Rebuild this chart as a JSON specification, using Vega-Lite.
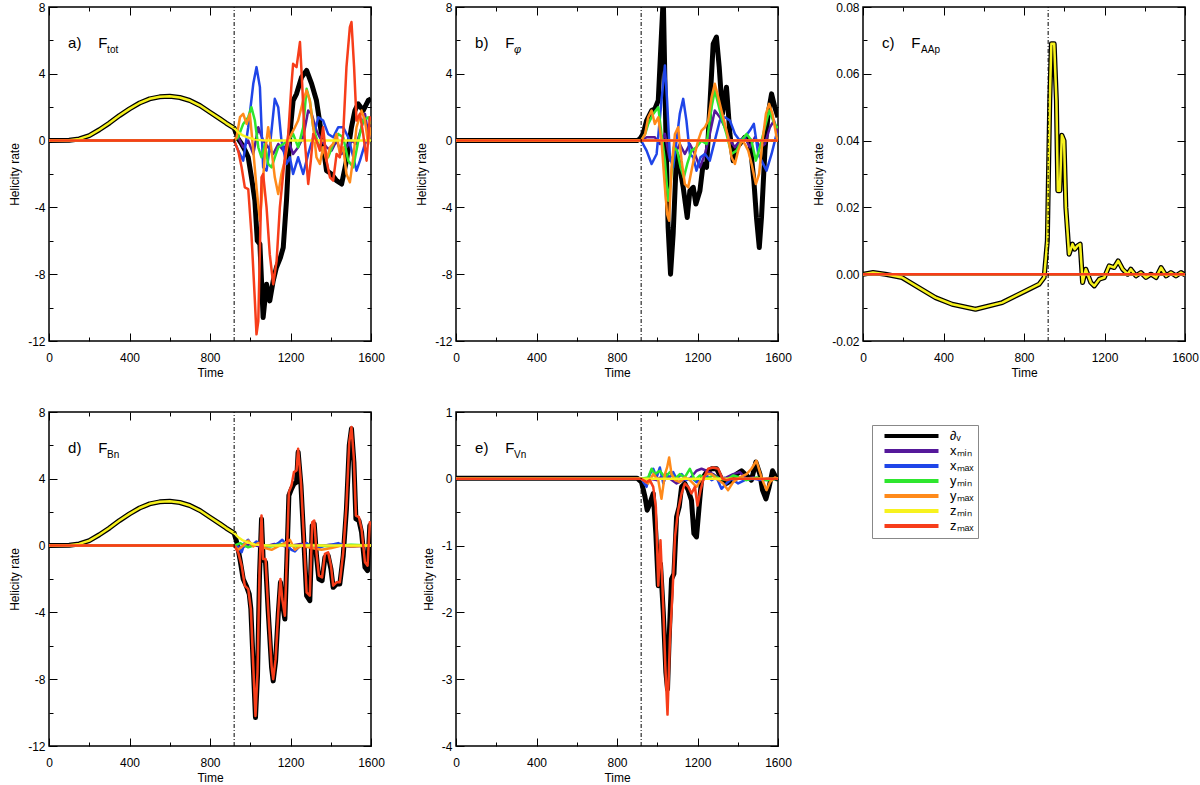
{
  "$schema": "https://vega.github.io/schema/vega-lite/v6.json",
  "description": "Helicity rate panels a-e with shared legend",
  "background": "white",
  "padding": {"left": 7, "top": 0, "right": 5, "bottom": 5},
  "config": {
    "font": "Liberation Sans",
    "view": {"stroke": "black", "strokeWidth": 1.5},
    "axis": {
      "domain": false, "grid": false,
      "labelFont": "Liberation Sans", "labelFontSize": 12, "labelColor": "black",
      "titleFont": "Liberation Sans", "titleFontSize": 12, "titleFontWeight": "normal", "titleColor": "black",
      "tickColor": "black", "tickWidth": 1, "labelOverlap": false, "labelFlush": false
    },
    "legend": {
      "orient": "none", "legendX": 823, "legendY": 418,
      "strokeColor": "#888888", "fillColor": "white", "padding": 4,
      "symbolType": "M0.3,0H11.1", "symbolSize": 100, "symbolStrokeWidth": 4,
      "labelFont": "Liberation Sans", "labelFontSize": 13, "labelColor": "black",
      "rowPadding": -3, "labelOffset": 60
    }
  },
  "datasets": {
    "a": [
      {"s":"dV","t":0,"v":0},{"s":"dV","t":100,"v":0.02},{"s":"dV","t":150,"v":0.1},{"s":"dV","t":200,"v":0.3},{"s":"dV","t":250,"v":0.65},{"s":"dV","t":300,"v":1.05},{"s":"dV","t":350,"v":1.5},{"s":"dV","t":400,"v":1.9},{"s":"dV","t":450,"v":2.25},{"s":"dV","t":500,"v":2.5},{"s":"dV","t":550,"v":2.62},{"s":"dV","t":600,"v":2.65},{"s":"dV","t":650,"v":2.58},{"s":"dV","t":700,"v":2.4},{"s":"dV","t":750,"v":2.1},{"s":"dV","t":800,"v":1.7},{"s":"dV","t":850,"v":1.3},{"s":"dV","t":880,"v":1.05},{"s":"dV","t":900,"v":0.9},{"s":"dV","t":920,"v":0.75},
      {"s":"dV","t":940,"v":0.1},{"s":"dV","t":957,"v":-0.2},{"s":"dV","t":975,"v":-0.6},{"s":"dV","t":990,"v":-1.0},{"s":"dV","t":1010,"v":-2.5},{"s":"dV","t":1023,"v":-3.6},{"s":"dV","t":1035,"v":-6},{"s":"dV","t":1048,"v":-6.2},{"s":"dV","t":1064,"v":-10.6},{"s":"dV","t":1081,"v":-8.6},{"s":"dV","t":1097,"v":-9.6},{"s":"dV","t":1114,"v":-8.4},{"s":"dV","t":1130,"v":-7.6},{"s":"dV","t":1150,"v":-7},{"s":"dV","t":1164,"v":-6.4},{"s":"dV","t":1180,"v":-3.6},{"s":"dV","t":1197,"v":0.4},{"s":"dV","t":1213,"v":2.4},{"s":"dV","t":1230,"v":2.8},{"s":"dV","t":1255,"v":3.8},{"s":"dV","t":1280,"v":4.2},{"s":"dV","t":1305,"v":3.4},{"s":"dV","t":1329,"v":2.4},{"s":"dV","t":1354,"v":0.4},{"s":"dV","t":1379,"v":-1.8},{"s":"dV","t":1404,"v":-2},{"s":"dV","t":1429,"v":-2.4},{"s":"dV","t":1454,"v":-2.6},{"s":"dV","t":1478,"v":-1.2},{"s":"dV","t":1503,"v":0.8},{"s":"dV","t":1520,"v":1.8},{"s":"dV","t":1536,"v":2.2},{"s":"dV","t":1561,"v":1.8},{"s":"dV","t":1586,"v":2.4},{"s":"dV","t":1600,"v":2.5},
      {"s":"xmin","t":0,"v":0},{"s":"xmin","t":920,"v":0},{"s":"xmin","t":940,"v":0.2},{"s":"xmin","t":965,"v":-0.4},{"s":"xmin","t":990,"v":0},{"s":"xmin","t":1015,"v":-0.8},{"s":"xmin","t":1040,"v":0.8},{"s":"xmin","t":1064,"v":0},{"s":"xmin","t":1089,"v":-0.4},{"s":"xmin","t":1114,"v":-0.8},{"s":"xmin","t":1139,"v":-0.2},{"s":"xmin","t":1164,"v":-0.6},{"s":"xmin","t":1189,"v":0},{"s":"xmin","t":1213,"v":-0.8},{"s":"xmin","t":1238,"v":-0.4},{"s":"xmin","t":1263,"v":0.2},{"s":"xmin","t":1288,"v":1.8},{"s":"xmin","t":1305,"v":1.6},{"s":"xmin","t":1329,"v":0.6},{"s":"xmin","t":1354,"v":0},{"s":"xmin","t":1379,"v":-0.4},{"s":"xmin","t":1404,"v":-0.6},{"s":"xmin","t":1429,"v":0},{"s":"xmin","t":1454,"v":-0.8},{"s":"xmin","t":1478,"v":-0.4},{"s":"xmin","t":1503,"v":0},{"s":"xmin","t":1528,"v":-0.2},{"s":"xmin","t":1553,"v":0.8},{"s":"xmin","t":1570,"v":1.6},{"s":"xmin","t":1586,"v":0.4},{"s":"xmin","t":1600,"v":0.2},
      {"s":"xmax","t":0,"v":0},{"s":"xmax","t":920,"v":0},{"s":"xmax","t":940,"v":-0.6},{"s":"xmax","t":965,"v":-1.2},{"s":"xmax","t":990,"v":0.8},{"s":"xmax","t":1015,"v":3.4},{"s":"xmax","t":1031,"v":4.4},{"s":"xmax","t":1048,"v":3.2},{"s":"xmax","t":1064,"v":-1.6},{"s":"xmax","t":1081,"v":-1.8},{"s":"xmax","t":1097,"v":-0.4},{"s":"xmax","t":1122,"v":2.5},{"s":"xmax","t":1139,"v":2},{"s":"xmax","t":1155,"v":0},{"s":"xmax","t":1180,"v":-1.4},{"s":"xmax","t":1197,"v":-1},{"s":"xmax","t":1213,"v":-2},{"s":"xmax","t":1238,"v":-1},{"s":"xmax","t":1263,"v":-2},{"s":"xmax","t":1288,"v":-0.8},{"s":"xmax","t":1313,"v":0.2},{"s":"xmax","t":1338,"v":1.4},{"s":"xmax","t":1362,"v":1.2},{"s":"xmax","t":1387,"v":0.4},{"s":"xmax","t":1412,"v":0.2},{"s":"xmax","t":1437,"v":0.8},{"s":"xmax","t":1462,"v":0.8},{"s":"xmax","t":1487,"v":0.2},{"s":"xmax","t":1512,"v":-1},{"s":"xmax","t":1528,"v":-1.8},{"s":"xmax","t":1545,"v":-1.2},{"s":"xmax","t":1570,"v":-0.2},{"s":"xmax","t":1600,"v":0.4},
      {"s":"ymin","t":0,"v":0},{"s":"ymin","t":920,"v":0},{"s":"ymin","t":940,"v":0.2},{"s":"ymin","t":965,"v":1},{"s":"ymin","t":990,"v":1.4},{"s":"ymin","t":1006,"v":2},{"s":"ymin","t":1023,"v":1.2},{"s":"ymin","t":1040,"v":-0.4},{"s":"ymin","t":1056,"v":-1},{"s":"ymin","t":1073,"v":-0.2},{"s":"ymin","t":1089,"v":-1.4},{"s":"ymin","t":1106,"v":-1.6},{"s":"ymin","t":1122,"v":-1},{"s":"ymin","t":1139,"v":-0.4},{"s":"ymin","t":1164,"v":-0.2},{"s":"ymin","t":1189,"v":0},{"s":"ymin","t":1213,"v":0.4},{"s":"ymin","t":1238,"v":-0.4},{"s":"ymin","t":1263,"v":0.8},{"s":"ymin","t":1280,"v":3.1},{"s":"ymin","t":1296,"v":2.4},{"s":"ymin","t":1313,"v":0.8},{"s":"ymin","t":1338,"v":-0.2},{"s":"ymin","t":1362,"v":-0.6},{"s":"ymin","t":1387,"v":-1},{"s":"ymin","t":1412,"v":-0.2},{"s":"ymin","t":1437,"v":0.4},{"s":"ymin","t":1462,"v":0.2},{"s":"ymin","t":1487,"v":-1.2},{"s":"ymin","t":1512,"v":-1.6},{"s":"ymin","t":1537,"v":0},{"s":"ymin","t":1561,"v":1.2},{"s":"ymin","t":1586,"v":1.4},{"s":"ymin","t":1600,"v":1},
      {"s":"ymax","t":0,"v":0},{"s":"ymax","t":920,"v":0},{"s":"ymax","t":932,"v":0.2},{"s":"ymax","t":949,"v":1.4},{"s":"ymax","t":965,"v":1.6},{"s":"ymax","t":982,"v":1},{"s":"ymax","t":998,"v":1.6},{"s":"ymax","t":1015,"v":-0.6},{"s":"ymax","t":1031,"v":-2.8},{"s":"ymax","t":1048,"v":-4.8},{"s":"ymax","t":1056,"v":-3.6},{"s":"ymax","t":1073,"v":-0.8},{"s":"ymax","t":1089,"v":0.8},{"s":"ymax","t":1106,"v":-0.6},{"s":"ymax","t":1122,"v":-2.2},{"s":"ymax","t":1139,"v":-3.2},{"s":"ymax","t":1155,"v":-2},{"s":"ymax","t":1172,"v":-1.2},{"s":"ymax","t":1189,"v":0},{"s":"ymax","t":1205,"v":0.4},{"s":"ymax","t":1222,"v":0.8},{"s":"ymax","t":1238,"v":1.2},{"s":"ymax","t":1263,"v":2.4},{"s":"ymax","t":1280,"v":3},{"s":"ymax","t":1296,"v":2.4},{"s":"ymax","t":1313,"v":0.8},{"s":"ymax","t":1329,"v":-1},{"s":"ymax","t":1346,"v":-1.4},{"s":"ymax","t":1362,"v":-0.4},{"s":"ymax","t":1379,"v":-1.2},{"s":"ymax","t":1396,"v":-0.4},{"s":"ymax","t":1412,"v":-0.2},{"s":"ymax","t":1429,"v":0.4},{"s":"ymax","t":1445,"v":-0.8},{"s":"ymax","t":1462,"v":-0.4},{"s":"ymax","t":1478,"v":-2},{"s":"ymax","t":1495,"v":-2.5},{"s":"ymax","t":1512,"v":-1},{"s":"ymax","t":1528,"v":0.8},{"s":"ymax","t":1553,"v":1.8},{"s":"ymax","t":1570,"v":1.2},{"s":"ymax","t":1586,"v":-0.2},{"s":"ymax","t":1600,"v":0.8},
      {"s":"zmin","t":0,"v":0},{"s":"zmin","t":100,"v":0.02},{"s":"zmin","t":150,"v":0.1},{"s":"zmin","t":200,"v":0.3},{"s":"zmin","t":250,"v":0.65},{"s":"zmin","t":300,"v":1.05},{"s":"zmin","t":350,"v":1.5},{"s":"zmin","t":400,"v":1.9},{"s":"zmin","t":450,"v":2.25},{"s":"zmin","t":500,"v":2.5},{"s":"zmin","t":550,"v":2.62},{"s":"zmin","t":600,"v":2.65},{"s":"zmin","t":650,"v":2.58},{"s":"zmin","t":700,"v":2.4},{"s":"zmin","t":750,"v":2.1},{"s":"zmin","t":800,"v":1.7},{"s":"zmin","t":850,"v":1.3},{"s":"zmin","t":880,"v":1.05},{"s":"zmin","t":900,"v":0.9},{"s":"zmin","t":920,"v":0.75},{"s":"zmin","t":940,"v":0.5},{"s":"zmin","t":960,"v":0.33},{"s":"zmin","t":990,"v":0.18},{"s":"zmin","t":1020,"v":0.08},{"s":"zmin","t":1060,"v":0.02},{"s":"zmin","t":1100,"v":0},{"s":"zmin","t":1600,"v":0},
      {"s":"zmax","t":0,"v":0},{"s":"zmax","t":920,"v":0},{"s":"zmax","t":940,"v":-0.6},{"s":"zmax","t":957,"v":-1.6},{"s":"zmax","t":973,"v":-2.8},{"s":"zmax","t":990,"v":-2.9},{"s":"zmax","t":1006,"v":-5.6},{"s":"zmax","t":1023,"v":-9.6},{"s":"zmax","t":1031,"v":-11.6},{"s":"zmax","t":1040,"v":-10.8},{"s":"zmax","t":1056,"v":-2.2},{"s":"zmax","t":1064,"v":-2},{"s":"zmax","t":1081,"v":-4},{"s":"zmax","t":1097,"v":-6.8},{"s":"zmax","t":1114,"v":-8.6},{"s":"zmax","t":1131,"v":-7.2},{"s":"zmax","t":1147,"v":-4},{"s":"zmax","t":1172,"v":-1},{"s":"zmax","t":1189,"v":0.4},{"s":"zmax","t":1205,"v":3.4},{"s":"zmax","t":1213,"v":4.6},{"s":"zmax","t":1230,"v":4.4},{"s":"zmax","t":1247,"v":5.9},{"s":"zmax","t":1258,"v":3.4},{"s":"zmax","t":1271,"v":0},{"s":"zmax","t":1288,"v":-2.6},{"s":"zmax","t":1301,"v":-1.2},{"s":"zmax","t":1313,"v":0.4},{"s":"zmax","t":1329,"v":0},{"s":"zmax","t":1346,"v":-0.6},{"s":"zmax","t":1362,"v":0.8},{"s":"zmax","t":1379,"v":-1.2},{"s":"zmax","t":1396,"v":-2.2},{"s":"zmax","t":1412,"v":-2.4},{"s":"zmax","t":1429,"v":-0.8},{"s":"zmax","t":1445,"v":-1},{"s":"zmax","t":1462,"v":0.4},{"s":"zmax","t":1478,"v":4.4},{"s":"zmax","t":1495,"v":6.8},{"s":"zmax","t":1503,"v":7.1},{"s":"zmax","t":1516,"v":4.4},{"s":"zmax","t":1528,"v":1.2},{"s":"zmax","t":1545,"v":1.6},{"s":"zmax","t":1561,"v":0.4},{"s":"zmax","t":1578,"v":-1.2},{"s":"zmax","t":1594,"v":1.4},{"s":"zmax","t":1600,"v":1.2}
    ],
    "b": [
      {"s":"dV","t":0,"v":0},{"s":"dV","t":900,"v":0},{"s":"dV","t":914,"v":0.1},{"s":"dV","t":930,"v":0.4},{"s":"dV","t":947,"v":1.2},{"s":"dV","t":972,"v":1.8},{"s":"dV","t":988,"v":1.9},{"s":"dV","t":1005,"v":2.4},{"s":"dV","t":1021,"v":6.4},{"s":"dV","t":1030,"v":8.6},{"s":"dV","t":1043,"v":0.4},{"s":"dV","t":1054,"v":-5.2},{"s":"dV","t":1066,"v":-8},{"s":"dV","t":1079,"v":-5.6},{"s":"dV","t":1096,"v":-0.8},{"s":"dV","t":1112,"v":-1.6},{"s":"dV","t":1129,"v":-2.8},{"s":"dV","t":1149,"v":-4.6},{"s":"dV","t":1162,"v":-3},{"s":"dV","t":1179,"v":-2.8},{"s":"dV","t":1192,"v":-3.8},{"s":"dV","t":1212,"v":-3},{"s":"dV","t":1228,"v":-1.4},{"s":"dV","t":1245,"v":-1.6},{"s":"dV","t":1261,"v":2},{"s":"dV","t":1278,"v":5.8},{"s":"dV","t":1294,"v":6.2},{"s":"dV","t":1308,"v":4.4},{"s":"dV","t":1324,"v":1.6},{"s":"dV","t":1344,"v":3.2},{"s":"dV","t":1361,"v":0.4},{"s":"dV","t":1377,"v":-1.2},{"s":"dV","t":1394,"v":-0.4},{"s":"dV","t":1410,"v":-0.2},{"s":"dV","t":1435,"v":0.2},{"s":"dV","t":1460,"v":0},{"s":"dV","t":1480,"v":-2.4},{"s":"dV","t":1493,"v":-4.6},{"s":"dV","t":1507,"v":-6.4},{"s":"dV","t":1518,"v":-4.6},{"s":"dV","t":1535,"v":-0.6},{"s":"dV","t":1551,"v":1.6},{"s":"dV","t":1568,"v":2.8},{"s":"dV","t":1584,"v":2},{"s":"dV","t":1600,"v":1.4},
      {"s":"xmin","t":0,"v":0},{"s":"xmin","t":920,"v":0},{"s":"xmin","t":947,"v":0.2},{"s":"xmin","t":988,"v":0.2},{"s":"xmin","t":1013,"v":-0.2},{"s":"xmin","t":1038,"v":0.4},{"s":"xmin","t":1063,"v":-1.2},{"s":"xmin","t":1088,"v":-0.8},{"s":"xmin","t":1112,"v":-0.2},{"s":"xmin","t":1137,"v":-0.8},{"s":"xmin","t":1162,"v":-0.2},{"s":"xmin","t":1187,"v":-0.8},{"s":"xmin","t":1212,"v":-1.6},{"s":"xmin","t":1237,"v":-0.8},{"s":"xmin","t":1261,"v":0.4},{"s":"xmin","t":1286,"v":1.8},{"s":"xmin","t":1311,"v":1.4},{"s":"xmin","t":1336,"v":0.8},{"s":"xmin","t":1361,"v":0},{"s":"xmin","t":1386,"v":-0.4},{"s":"xmin","t":1410,"v":0},{"s":"xmin","t":1435,"v":0.2},{"s":"xmin","t":1460,"v":-0.4},{"s":"xmin","t":1485,"v":0.2},{"s":"xmin","t":1510,"v":-0.4},{"s":"xmin","t":1535,"v":-0.2},{"s":"xmin","t":1560,"v":0.8},{"s":"xmin","t":1580,"v":1.2},{"s":"xmin","t":1600,"v":0.4},
      {"s":"xmax","t":0,"v":0},{"s":"xmax","t":920,"v":0},{"s":"xmax","t":947,"v":-0.6},{"s":"xmax","t":972,"v":-1.4},{"s":"xmax","t":997,"v":-0.8},{"s":"xmax","t":1021,"v":2.4},{"s":"xmax","t":1038,"v":4.5},{"s":"xmax","t":1049,"v":2.4},{"s":"xmax","t":1063,"v":-1},{"s":"xmax","t":1079,"v":-1.6},{"s":"xmax","t":1096,"v":0},{"s":"xmax","t":1112,"v":1.6},{"s":"xmax","t":1129,"v":2.5},{"s":"xmax","t":1145,"v":1.2},{"s":"xmax","t":1162,"v":-0.8},{"s":"xmax","t":1179,"v":-1},{"s":"xmax","t":1195,"v":-1.8},{"s":"xmax","t":1215,"v":-1},{"s":"xmax","t":1237,"v":-0.8},{"s":"xmax","t":1261,"v":-1.2},{"s":"xmax","t":1286,"v":0},{"s":"xmax","t":1311,"v":1.2},{"s":"xmax","t":1336,"v":1.4},{"s":"xmax","t":1361,"v":1.2},{"s":"xmax","t":1386,"v":0.4},{"s":"xmax","t":1410,"v":0},{"s":"xmax","t":1435,"v":0.2},{"s":"xmax","t":1460,"v":0.6},{"s":"xmax","t":1480,"v":1},{"s":"xmax","t":1502,"v":-0.8},{"s":"xmax","t":1518,"v":-1.2},{"s":"xmax","t":1543,"v":-1.8},{"s":"xmax","t":1568,"v":-0.8},{"s":"xmax","t":1593,"v":0.4},{"s":"xmax","t":1600,"v":0.4},
      {"s":"ymin","t":0,"v":0},{"s":"ymin","t":920,"v":0},{"s":"ymin","t":940,"v":0.4},{"s":"ymin","t":955,"v":1},{"s":"ymin","t":980,"v":1.6},{"s":"ymin","t":1005,"v":2},{"s":"ymin","t":1021,"v":0.4},{"s":"ymin","t":1038,"v":-1.2},{"s":"ymin","t":1054,"v":-3.6},{"s":"ymin","t":1066,"v":-2.6},{"s":"ymin","t":1082,"v":-0.4},{"s":"ymin","t":1099,"v":-0.6},{"s":"ymin","t":1116,"v":-1.6},{"s":"ymin","t":1132,"v":-2.2},{"s":"ymin","t":1149,"v":-1.4},{"s":"ymin","t":1170,"v":-0.6},{"s":"ymin","t":1195,"v":-0.4},{"s":"ymin","t":1220,"v":0},{"s":"ymin","t":1245,"v":-0.2},{"s":"ymin","t":1270,"v":2},{"s":"ymin","t":1286,"v":3},{"s":"ymin","t":1303,"v":2.2},{"s":"ymin","t":1319,"v":1.4},{"s":"ymin","t":1344,"v":0.4},{"s":"ymin","t":1369,"v":-0.8},{"s":"ymin","t":1394,"v":-0.6},{"s":"ymin","t":1419,"v":0},{"s":"ymin","t":1444,"v":0.4},{"s":"ymin","t":1468,"v":0},{"s":"ymin","t":1490,"v":-1.2},{"s":"ymin","t":1510,"v":-0.4},{"s":"ymin","t":1535,"v":0.8},{"s":"ymin","t":1556,"v":1.8},{"s":"ymin","t":1576,"v":1.2},{"s":"ymin","t":1593,"v":0.8},{"s":"ymin","t":1600,"v":0.8},
      {"s":"ymax","t":0,"v":0},{"s":"ymax","t":920,"v":0},{"s":"ymax","t":940,"v":0.4},{"s":"ymax","t":955,"v":1.4},{"s":"ymax","t":972,"v":1.8},{"s":"ymax","t":988,"v":1},{"s":"ymax","t":1005,"v":1.4},{"s":"ymax","t":1021,"v":0},{"s":"ymax","t":1038,"v":-2.8},{"s":"ymax","t":1049,"v":-4.4},{"s":"ymax","t":1059,"v":-4.8},{"s":"ymax","t":1071,"v":-1.6},{"s":"ymax","t":1088,"v":0.4},{"s":"ymax","t":1104,"v":0.8},{"s":"ymax","t":1121,"v":-1.2},{"s":"ymax","t":1137,"v":-2.6},{"s":"ymax","t":1154,"v":-2.8},{"s":"ymax","t":1170,"v":-1.8},{"s":"ymax","t":1187,"v":-0.8},{"s":"ymax","t":1203,"v":0},{"s":"ymax","t":1220,"v":0.6},{"s":"ymax","t":1237,"v":0.8},{"s":"ymax","t":1253,"v":1.2},{"s":"ymax","t":1270,"v":2.6},{"s":"ymax","t":1286,"v":3.4},{"s":"ymax","t":1303,"v":2.6},{"s":"ymax","t":1319,"v":1.8},{"s":"ymax","t":1336,"v":1},{"s":"ymax","t":1352,"v":0.2},{"s":"ymax","t":1369,"v":-1},{"s":"ymax","t":1386,"v":-1.4},{"s":"ymax","t":1402,"v":-0.6},{"s":"ymax","t":1419,"v":0},{"s":"ymax","t":1435,"v":-0.2},{"s":"ymax","t":1452,"v":-0.6},{"s":"ymax","t":1469,"v":-1.4},{"s":"ymax","t":1490,"v":-2.6},{"s":"ymax","t":1506,"v":-2},{"s":"ymax","t":1523,"v":0},{"s":"ymax","t":1540,"v":1.6},{"s":"ymax","t":1556,"v":2.2},{"s":"ymax","t":1573,"v":1.6},{"s":"ymax","t":1593,"v":0.2},{"s":"ymax","t":1600,"v":0},
      {"s":"zmin","t":0,"v":0},{"s":"zmin","t":1600,"v":0},
      {"s":"zmax","t":0,"v":0},{"s":"zmax","t":1600,"v":0}
    ],
    "c": [
      {"s":"dV","t":0,"v":0},{"s":"dV","t":50,"v":0.0005},{"s":"dV","t":111,"v":0},{"s":"dV","t":194,"v":-0.001},{"s":"dV","t":277,"v":-0.004},{"s":"dV","t":360,"v":-0.007},{"s":"dV","t":443,"v":-0.009},{"s":"dV","t":559,"v":-0.0105},{"s":"dV","t":692,"v":-0.0085},{"s":"dV","t":808,"v":-0.005},{"s":"dV","t":875,"v":-0.003},{"s":"dV","t":900,"v":-0.001},{"s":"dV","t":916,"v":0.01},{"s":"dV","t":928,"v":0.052},{"s":"dV","t":936,"v":0.069},{"s":"dV","t":950,"v":0.069},{"s":"dV","t":961,"v":0.052},{"s":"dV","t":968,"v":0.025},{"s":"dV","t":978,"v":0.025},{"s":"dV","t":988,"v":0.0416},{"s":"dV","t":999,"v":0.04},{"s":"dV","t":1008,"v":0.02},{"s":"dV","t":1024,"v":0.006},{"s":"dV","t":1041,"v":0.009},{"s":"dV","t":1052,"v":0.0075},{"s":"dV","t":1066,"v":0.0085},{"s":"dV","t":1079,"v":0.009},{"s":"dV","t":1091,"v":-0.0025},{"s":"dV","t":1107,"v":0.0015},{"s":"dV","t":1132,"v":-0.0025},{"s":"dV","t":1149,"v":-0.0035},{"s":"dV","t":1174,"v":-0.0015},{"s":"dV","t":1199,"v":-0.001},{"s":"dV","t":1223,"v":0.0025},{"s":"dV","t":1248,"v":0.002},{"s":"dV","t":1268,"v":0.004},{"s":"dV","t":1290,"v":0.0015},{"s":"dV","t":1315,"v":0},{"s":"dV","t":1331,"v":0.0015},{"s":"dV","t":1356,"v":-0.0005},{"s":"dV","t":1381,"v":0.0005},{"s":"dV","t":1406,"v":-0.001},{"s":"dV","t":1431,"v":0},{"s":"dV","t":1456,"v":-0.001},{"s":"dV","t":1481,"v":0.002},{"s":"dV","t":1506,"v":-0.0005},{"s":"dV","t":1530,"v":0.0005},{"s":"dV","t":1555,"v":-0.0005},{"s":"dV","t":1580,"v":0.0005},{"s":"dV","t":1600,"v":-0.0002},
      {"s":"xmin","t":0,"v":0},{"s":"xmin","t":1600,"v":0},
      {"s":"xmax","t":0,"v":0},{"s":"xmax","t":1600,"v":0},
      {"s":"ymin","t":0,"v":0},{"s":"ymin","t":1600,"v":0},
      {"s":"ymax","t":0,"v":0},{"s":"ymax","t":1600,"v":0},
      {"s":"zmin","t":0,"v":0},{"s":"zmin","t":50,"v":0.0005},{"s":"zmin","t":111,"v":0},{"s":"zmin","t":194,"v":-0.001},{"s":"zmin","t":277,"v":-0.004},{"s":"zmin","t":360,"v":-0.007},{"s":"zmin","t":443,"v":-0.009},{"s":"zmin","t":559,"v":-0.0105},{"s":"zmin","t":692,"v":-0.0085},{"s":"zmin","t":808,"v":-0.005},{"s":"zmin","t":875,"v":-0.003},{"s":"zmin","t":900,"v":-0.001},{"s":"zmin","t":916,"v":0.01},{"s":"zmin","t":928,"v":0.052},{"s":"zmin","t":936,"v":0.069},{"s":"zmin","t":950,"v":0.069},{"s":"zmin","t":961,"v":0.052},{"s":"zmin","t":968,"v":0.025},{"s":"zmin","t":978,"v":0.025},{"s":"zmin","t":988,"v":0.0416},{"s":"zmin","t":999,"v":0.04},{"s":"zmin","t":1008,"v":0.02},{"s":"zmin","t":1024,"v":0.006},{"s":"zmin","t":1041,"v":0.009},{"s":"zmin","t":1052,"v":0.0075},{"s":"zmin","t":1066,"v":0.0085},{"s":"zmin","t":1079,"v":0.009},{"s":"zmin","t":1091,"v":-0.0025},{"s":"zmin","t":1107,"v":0.0015},{"s":"zmin","t":1132,"v":-0.0025},{"s":"zmin","t":1149,"v":-0.0035},{"s":"zmin","t":1174,"v":-0.0015},{"s":"zmin","t":1199,"v":-0.001},{"s":"zmin","t":1223,"v":0.0025},{"s":"zmin","t":1248,"v":0.002},{"s":"zmin","t":1268,"v":0.004},{"s":"zmin","t":1290,"v":0.0015},{"s":"zmin","t":1315,"v":0},{"s":"zmin","t":1331,"v":0.0015},{"s":"zmin","t":1356,"v":-0.0005},{"s":"zmin","t":1381,"v":0.0005},{"s":"zmin","t":1406,"v":-0.001},{"s":"zmin","t":1431,"v":0},{"s":"zmin","t":1456,"v":-0.001},{"s":"zmin","t":1481,"v":0.002},{"s":"zmin","t":1506,"v":-0.0005},{"s":"zmin","t":1530,"v":0.0005},{"s":"zmin","t":1555,"v":-0.0005},{"s":"zmin","t":1580,"v":0.0005},{"s":"zmin","t":1600,"v":-0.0002},
      {"s":"zmax","t":0,"v":0},{"s":"zmax","t":1600,"v":0}
    ],
    "d": [
      {"s":"dV","t":0,"v":0},{"s":"dV","t":100,"v":0.02},{"s":"dV","t":150,"v":0.1},{"s":"dV","t":200,"v":0.3},{"s":"dV","t":250,"v":0.65},{"s":"dV","t":300,"v":1.05},{"s":"dV","t":350,"v":1.5},{"s":"dV","t":400,"v":1.9},{"s":"dV","t":450,"v":2.25},{"s":"dV","t":500,"v":2.5},{"s":"dV","t":550,"v":2.62},{"s":"dV","t":600,"v":2.65},{"s":"dV","t":650,"v":2.58},{"s":"dV","t":700,"v":2.4},{"s":"dV","t":750,"v":2.1},{"s":"dV","t":800,"v":1.7},{"s":"dV","t":850,"v":1.3},{"s":"dV","t":880,"v":1.05},{"s":"dV","t":900,"v":0.9},{"s":"dV","t":920,"v":0.75},
      {"s":"dV","t":935,"v":0.1},{"s":"dV","t":950,"v":-0.9},{"s":"dV","t":965,"v":-2},{"s":"dV","t":980,"v":-2.4},{"s":"dV","t":995,"v":-2.9},{"s":"dV","t":1003,"v":-3.8},{"s":"dV","t":1015,"v":-7.2},{"s":"dV","t":1026,"v":-10.3},{"s":"dV","t":1036,"v":-7.8},{"s":"dV","t":1046,"v":-1.8},{"s":"dV","t":1056,"v":1.6},{"s":"dV","t":1064,"v":-0.8},{"s":"dV","t":1076,"v":-1},{"s":"dV","t":1089,"v":-3.9},{"s":"dV","t":1106,"v":-7.3},{"s":"dV","t":1114,"v":-8.1},{"s":"dV","t":1126,"v":-6.9},{"s":"dV","t":1139,"v":-4.1},{"s":"dV","t":1150,"v":-2.2},{"s":"dV","t":1159,"v":-3.4},{"s":"dV","t":1172,"v":-4.4},{"s":"dV","t":1182,"v":-0.8},{"s":"dV","t":1192,"v":3},{"s":"dV","t":1205,"v":3.4},{"s":"dV","t":1217,"v":3.7},{"s":"dV","t":1230,"v":3.8},{"s":"dV","t":1238,"v":5.6},{"s":"dV","t":1252,"v":3.6},{"s":"dV","t":1265,"v":0.6},{"s":"dV","t":1280,"v":-3},{"s":"dV","t":1296,"v":-3.3},{"s":"dV","t":1308,"v":1.2},{"s":"dV","t":1318,"v":1.3},{"s":"dV","t":1329,"v":-0.6},{"s":"dV","t":1341,"v":-2},{"s":"dV","t":1357,"v":-2.1},{"s":"dV","t":1371,"v":-0.7},{"s":"dV","t":1387,"v":-0.6},{"s":"dV","t":1401,"v":-1.4},{"s":"dV","t":1412,"v":-2.5},{"s":"dV","t":1429,"v":-2.3},{"s":"dV","t":1445,"v":-2.3},{"s":"dV","t":1462,"v":-0.6},{"s":"dV","t":1478,"v":2.2},{"s":"dV","t":1492,"v":6},{"s":"dV","t":1503,"v":7},{"s":"dV","t":1515,"v":5},{"s":"dV","t":1525,"v":1.6},{"s":"dV","t":1540,"v":1.5},{"s":"dV","t":1553,"v":0.8},{"s":"dV","t":1570,"v":-1.3},{"s":"dV","t":1583,"v":-1.5},{"s":"dV","t":1594,"v":1.2},{"s":"dV","t":1600,"v":1},
      {"s":"xmin","t":0,"v":0},{"s":"xmin","t":920,"v":0},{"s":"xmin","t":960,"v":-0.1},{"s":"xmin","t":1000,"v":0.1},{"s":"xmin","t":1060,"v":-0.1},{"s":"xmin","t":1120,"v":0.1},{"s":"xmin","t":1180,"v":-0.05},{"s":"xmin","t":1250,"v":0.1},{"s":"xmin","t":1320,"v":-0.05},{"s":"xmin","t":1400,"v":0.05},{"s":"xmin","t":1500,"v":-0.05},{"s":"xmin","t":1600,"v":0},
      {"s":"xmax","t":0,"v":0},{"s":"xmax","t":920,"v":0},{"s":"xmax","t":940,"v":-0.1},{"s":"xmax","t":957,"v":-0.4},{"s":"xmax","t":973,"v":0.2},{"s":"xmax","t":990,"v":0.35},{"s":"xmax","t":1006,"v":0},{"s":"xmax","t":1031,"v":0.25},{"s":"xmax","t":1056,"v":0.05},{"s":"xmax","t":1081,"v":-0.05},{"s":"xmax","t":1122,"v":0.05},{"s":"xmax","t":1139,"v":0.15},{"s":"xmax","t":1159,"v":0.35},{"s":"xmax","t":1180,"v":0.05},{"s":"xmax","t":1205,"v":-0.25},{"s":"xmax","t":1222,"v":-0.35},{"s":"xmax","t":1247,"v":0},{"s":"xmax","t":1280,"v":0.15},{"s":"xmax","t":1305,"v":-0.05},{"s":"xmax","t":1338,"v":-0.15},{"s":"xmax","t":1371,"v":0},{"s":"xmax","t":1404,"v":0.05},{"s":"xmax","t":1437,"v":0.15},{"s":"xmax","t":1470,"v":0},{"s":"xmax","t":1503,"v":-0.05},{"s":"xmax","t":1536,"v":0},{"s":"xmax","t":1600,"v":0},
      {"s":"ymin","t":0,"v":0},{"s":"ymin","t":920,"v":0},{"s":"ymin","t":950,"v":0.15},{"s":"ymin","t":990,"v":-0.1},{"s":"ymin","t":1040,"v":0.1},{"s":"ymin","t":1100,"v":-0.05},{"s":"ymin","t":1160,"v":0.1},{"s":"ymin","t":1230,"v":-0.05},{"s":"ymin","t":1300,"v":0.05},{"s":"ymin","t":1400,"v":-0.05},{"s":"ymin","t":1500,"v":0.05},{"s":"ymin","t":1600,"v":0},
      {"s":"ymax","t":0,"v":0},{"s":"ymax","t":920,"v":0},{"s":"ymax","t":940,"v":-0.25},{"s":"ymax","t":965,"v":0},{"s":"ymax","t":990,"v":0.3},{"s":"ymax","t":1015,"v":-0.05},{"s":"ymax","t":1040,"v":0.15},{"s":"ymax","t":1073,"v":-0.15},{"s":"ymax","t":1106,"v":-0.25},{"s":"ymax","t":1139,"v":-0.05},{"s":"ymax","t":1172,"v":0.15},{"s":"ymax","t":1197,"v":0.35},{"s":"ymax","t":1222,"v":-0.25},{"s":"ymax","t":1255,"v":0},{"s":"ymax","t":1305,"v":-0.15},{"s":"ymax","t":1354,"v":-0.25},{"s":"ymax","t":1404,"v":-0.15},{"s":"ymax","t":1454,"v":0},{"s":"ymax","t":1503,"v":-0.05},{"s":"ymax","t":1600,"v":0},
      {"s":"zmin","t":0,"v":0},{"s":"zmin","t":100,"v":0.02},{"s":"zmin","t":150,"v":0.1},{"s":"zmin","t":200,"v":0.3},{"s":"zmin","t":250,"v":0.65},{"s":"zmin","t":300,"v":1.05},{"s":"zmin","t":350,"v":1.5},{"s":"zmin","t":400,"v":1.9},{"s":"zmin","t":450,"v":2.25},{"s":"zmin","t":500,"v":2.5},{"s":"zmin","t":550,"v":2.62},{"s":"zmin","t":600,"v":2.65},{"s":"zmin","t":650,"v":2.58},{"s":"zmin","t":700,"v":2.4},{"s":"zmin","t":750,"v":2.1},{"s":"zmin","t":800,"v":1.7},{"s":"zmin","t":850,"v":1.3},{"s":"zmin","t":880,"v":1.05},{"s":"zmin","t":900,"v":0.9},{"s":"zmin","t":920,"v":0.75},{"s":"zmin","t":940,"v":0.5},{"s":"zmin","t":960,"v":0.33},{"s":"zmin","t":990,"v":0.18},{"s":"zmin","t":1020,"v":0.08},{"s":"zmin","t":1060,"v":0.02},{"s":"zmin","t":1100,"v":0},{"s":"zmin","t":1600,"v":0},
      {"s":"zmax","t":0,"v":0},{"s":"zmax","t":920,"v":0},{"s":"zmax","t":940,"v":-0.4},{"s":"zmax","t":957,"v":-1.2},{"s":"zmax","t":973,"v":-2.4},{"s":"zmax","t":990,"v":-2.6},{"s":"zmax","t":1003,"v":-3.8},{"s":"zmax","t":1015,"v":-7.2},{"s":"zmax","t":1026,"v":-10.2},{"s":"zmax","t":1036,"v":-7.6},{"s":"zmax","t":1046,"v":-1.6},{"s":"zmax","t":1056,"v":1.8},{"s":"zmax","t":1064,"v":-0.8},{"s":"zmax","t":1076,"v":-0.8},{"s":"zmax","t":1089,"v":-3.8},{"s":"zmax","t":1106,"v":-7.2},{"s":"zmax","t":1114,"v":-8},{"s":"zmax","t":1126,"v":-6.8},{"s":"zmax","t":1139,"v":-4},{"s":"zmax","t":1150,"v":-2},{"s":"zmax","t":1159,"v":-3.2},{"s":"zmax","t":1172,"v":-4.2},{"s":"zmax","t":1182,"v":-0.6},{"s":"zmax","t":1192,"v":3.2},{"s":"zmax","t":1205,"v":3.6},{"s":"zmax","t":1217,"v":4.4},{"s":"zmax","t":1230,"v":4.5},{"s":"zmax","t":1238,"v":5.8},{"s":"zmax","t":1252,"v":3.8},{"s":"zmax","t":1265,"v":0.8},{"s":"zmax","t":1280,"v":-2.8},{"s":"zmax","t":1296,"v":-3},{"s":"zmax","t":1308,"v":1.4},{"s":"zmax","t":1318,"v":1.5},{"s":"zmax","t":1329,"v":-0.4},{"s":"zmax","t":1341,"v":-1.8},{"s":"zmax","t":1357,"v":-1.9},{"s":"zmax","t":1371,"v":-0.5},{"s":"zmax","t":1387,"v":-0.4},{"s":"zmax","t":1401,"v":-1.2},{"s":"zmax","t":1412,"v":-2.4},{"s":"zmax","t":1429,"v":-2.2},{"s":"zmax","t":1445,"v":-2.2},{"s":"zmax","t":1462,"v":-0.4},{"s":"zmax","t":1478,"v":2.4},{"s":"zmax","t":1492,"v":6.2},{"s":"zmax","t":1503,"v":7.1},{"s":"zmax","t":1515,"v":5.2},{"s":"zmax","t":1525,"v":1.8},{"s":"zmax","t":1540,"v":1.7},{"s":"zmax","t":1553,"v":1},{"s":"zmax","t":1570,"v":-1},{"s":"zmax","t":1583,"v":-1.2},{"s":"zmax","t":1594,"v":1.4},{"s":"zmax","t":1600,"v":1.2}
    ],
    "e": [
      {"s":"dV","t":0,"v":0.01},{"s":"dV","t":900,"v":0.01},{"s":"dV","t":922,"v":-0.05},{"s":"dV","t":939,"v":-0.27},{"s":"dV","t":950,"v":-0.47},{"s":"dV","t":963,"v":-0.37},{"s":"dV","t":980,"v":-0.22},{"s":"dV","t":993,"v":-0.82},{"s":"dV","t":1005,"v":-1.6},{"s":"dV","t":1016,"v":-1.27},{"s":"dV","t":1030,"v":-2},{"s":"dV","t":1043,"v":-2.9},{"s":"dV","t":1051,"v":-3.15},{"s":"dV","t":1059,"v":-2.4},{"s":"dV","t":1071,"v":-1.5},{"s":"dV","t":1083,"v":-1.42},{"s":"dV","t":1096,"v":-0.57},{"s":"dV","t":1109,"v":-0.42},{"s":"dV","t":1121,"v":-0.12},{"s":"dV","t":1137,"v":-0.07},{"s":"dV","t":1154,"v":-0.17},{"s":"dV","t":1170,"v":-0.32},{"s":"dV","t":1182,"v":-0.82},{"s":"dV","t":1195,"v":-0.87},{"s":"dV","t":1208,"v":-0.42},{"s":"dV","t":1220,"v":-0.02},{"s":"dV","t":1245,"v":0.1},{"s":"dV","t":1270,"v":0.15},{"s":"dV","t":1295,"v":0.15},{"s":"dV","t":1319,"v":0},{"s":"dV","t":1344,"v":-0.07},{"s":"dV","t":1369,"v":-0.02},{"s":"dV","t":1394,"v":0.07},{"s":"dV","t":1419,"v":0.12},{"s":"dV","t":1444,"v":0.05},{"s":"dV","t":1468,"v":-0.02},{"s":"dV","t":1490,"v":0.25},{"s":"dV","t":1510,"v":0.07},{"s":"dV","t":1523,"v":-0.17},{"s":"dV","t":1540,"v":-0.3},{"s":"dV","t":1556,"v":-0.12},{"s":"dV","t":1573,"v":0.12},{"s":"dV","t":1593,"v":0},{"s":"dV","t":1600,"v":0},
      {"s":"xmin","t":0,"v":0},{"s":"xmin","t":920,"v":0},{"s":"xmin","t":963,"v":0},{"s":"xmin","t":997,"v":-0.02},{"s":"xmin","t":1030,"v":0.05},{"s":"xmin","t":1063,"v":0},{"s":"xmin","t":1096,"v":-0.07},{"s":"xmin","t":1129,"v":-0.02},{"s":"xmin","t":1162,"v":0},{"s":"xmin","t":1195,"v":0.12},{"s":"xmin","t":1220,"v":0.15},{"s":"xmin","t":1245,"v":0.12},{"s":"xmin","t":1278,"v":0.07},{"s":"xmin","t":1311,"v":0},{"s":"xmin","t":1344,"v":0.02},{"s":"xmin","t":1377,"v":0.07},{"s":"xmin","t":1410,"v":0.1},{"s":"xmin","t":1444,"v":0},{"s":"xmin","t":1477,"v":0.02},{"s":"xmin","t":1510,"v":-0.02},{"s":"xmin","t":1543,"v":0},{"s":"xmin","t":1600,"v":0},
      {"s":"xmax","t":0,"v":0},{"s":"xmax","t":920,"v":0},{"s":"xmax","t":947,"v":-0.12},{"s":"xmax","t":963,"v":0.07},{"s":"xmax","t":980,"v":0.15},{"s":"xmax","t":997,"v":0.02},{"s":"xmax","t":1013,"v":0.17},{"s":"xmax","t":1030,"v":-0.07},{"s":"xmax","t":1046,"v":0.07},{"s":"xmax","t":1063,"v":0.02},{"s":"xmax","t":1079,"v":0.1},{"s":"xmax","t":1096,"v":0},{"s":"xmax","t":1121,"v":0.07},{"s":"xmax","t":1145,"v":-0.02},{"s":"xmax","t":1170,"v":0.02},{"s":"xmax","t":1195,"v":-0.05},{"s":"xmax","t":1220,"v":0},{"s":"xmax","t":1245,"v":0.05},{"s":"xmax","t":1270,"v":-0.02},{"s":"xmax","t":1295,"v":0.02},{"s":"xmax","t":1319,"v":-0.15},{"s":"xmax","t":1344,"v":-0.07},{"s":"xmax","t":1369,"v":0},{"s":"xmax","t":1402,"v":-0.07},{"s":"xmax","t":1435,"v":-0.02},{"s":"xmax","t":1477,"v":0},{"s":"xmax","t":1526,"v":-0.02},{"s":"xmax","t":1600,"v":0},
      {"s":"ymin","t":0,"v":0},{"s":"ymin","t":920,"v":0},{"s":"ymin","t":955,"v":0.02},{"s":"ymin","t":972,"v":0.15},{"s":"ymin","t":988,"v":0.07},{"s":"ymin","t":1013,"v":0.12},{"s":"ymin","t":1038,"v":0.02},{"s":"ymin","t":1063,"v":0.1},{"s":"ymin","t":1088,"v":0},{"s":"ymin","t":1112,"v":0.07},{"s":"ymin","t":1137,"v":0.02},{"s":"ymin","t":1162,"v":0.15},{"s":"ymin","t":1187,"v":-0.02},{"s":"ymin","t":1212,"v":0.05},{"s":"ymin","t":1245,"v":0},{"s":"ymin","t":1278,"v":0.05},{"s":"ymin","t":1311,"v":0},{"s":"ymin","t":1344,"v":-0.02},{"s":"ymin","t":1377,"v":0.05},{"s":"ymin","t":1410,"v":0.02},{"s":"ymin","t":1444,"v":-0.02},{"s":"ymin","t":1493,"v":0.02},{"s":"ymin","t":1543,"v":-0.02},{"s":"ymin","t":1600,"v":0},
      {"s":"ymax","t":0,"v":0},{"s":"ymax","t":920,"v":0},{"s":"ymax","t":955,"v":-0.07},{"s":"ymax","t":980,"v":0.07},{"s":"ymax","t":1005,"v":-0.02},{"s":"ymax","t":1021,"v":-0.3},{"s":"ymax","t":1038,"v":0.07},{"s":"ymax","t":1049,"v":0.17},{"s":"ymax","t":1059,"v":0.32},{"s":"ymax","t":1071,"v":0.07},{"s":"ymax","t":1088,"v":-0.02},{"s":"ymax","t":1112,"v":-0.05},{"s":"ymax","t":1137,"v":0.02},{"s":"ymax","t":1162,"v":-0.02},{"s":"ymax","t":1195,"v":-0.12},{"s":"ymax","t":1220,"v":0},{"s":"ymax","t":1245,"v":0.07},{"s":"ymax","t":1270,"v":0.07},{"s":"ymax","t":1295,"v":0},{"s":"ymax","t":1328,"v":-0.07},{"s":"ymax","t":1352,"v":-0.17},{"s":"ymax","t":1377,"v":-0.05},{"s":"ymax","t":1410,"v":0.02},{"s":"ymax","t":1444,"v":0.07},{"s":"ymax","t":1468,"v":0.15},{"s":"ymax","t":1493,"v":0.27},{"s":"ymax","t":1518,"v":0.02},{"s":"ymax","t":1543,"v":-0.17},{"s":"ymax","t":1560,"v":-0.05},{"s":"ymax","t":1585,"v":0.02},{"s":"ymax","t":1600,"v":0},
      {"s":"zmin","t":0,"v":0},{"s":"zmin","t":1600,"v":0},
      {"s":"zmax","t":0,"v":0},{"s":"zmax","t":920,"v":0},{"s":"zmax","t":947,"v":-0.05},{"s":"zmax","t":963,"v":-0.02},{"s":"zmax","t":980,"v":-0.12},{"s":"zmax","t":993,"v":-0.42},{"s":"zmax","t":1005,"v":-1.6},{"s":"zmax","t":1016,"v":-0.92},{"s":"zmax","t":1030,"v":-1.92},{"s":"zmax","t":1040,"v":-2.8},{"s":"zmax","t":1051,"v":-3.53},{"s":"zmax","t":1063,"v":-2.4},{"s":"zmax","t":1076,"v":-1.7},{"s":"zmax","t":1088,"v":-0.87},{"s":"zmax","t":1104,"v":-0.47},{"s":"zmax","t":1121,"v":-0.22},{"s":"zmax","t":1137,"v":-0.07},{"s":"zmax","t":1154,"v":-0.12},{"s":"zmax","t":1170,"v":-0.22},{"s":"zmax","t":1187,"v":-0.12},{"s":"zmax","t":1200,"v":-0.4},{"s":"zmax","t":1215,"v":-0.17},{"s":"zmax","t":1232,"v":0.02},{"s":"zmax","t":1253,"v":0.15},{"s":"zmax","t":1278,"v":0.17},{"s":"zmax","t":1303,"v":0.15},{"s":"zmax","t":1324,"v":0},{"s":"zmax","t":1344,"v":-0.02},{"s":"zmax","t":1369,"v":0},{"s":"zmax","t":1600,"v":0}
    ]
  },
  "columns": 3,
  "spacing": {"row": 71, "column": 85},
  "bounds": "flush",
  "resolve": {"scale": {"x": "independent", "y": "independent", "color": "shared"}},
  "concat": [
    {
      "width": 322, "height": 334,
      "data": {"name": "a"},
      "resolve": {"axis": {"x": "independent", "y": "independent"}},
      "layer": [
        {
          "mark": {"type": "line", "clip": true, "strokeJoin": "round"},
          "encoding": {
            "x": {"field": "t", "type": "quantitative", "scale": {"domain": [0, 1600], "nice": false},
              "axis": {"orient": "bottom", "values": [0,400,800,1200,1600], "format": "d", "tickSize": -8, "labelPadding": 19, "title": "Time", "titlePadding": 4}},
            "y": {"field": "v", "type": "quantitative", "scale": {"domain": [-12, 8], "nice": false},
              "axis": {"orient": "left", "values": [-12,-8,-4,0,4,8], "labelExpr": "datum.value + ''", "tickSize": -8, "labelPadding": 12, "title": "Helicity rate", "titlePadding": 6}},
            "color": {"field": "s", "type": "nominal", "scale": {"domain": ["dV","xmin","xmax","ymin","ymax","zmin","zmax"], "range": ["#000000","#55189a","#1f45e8","#2ee62e","#ff8a1a","#f7f21e","#f73d1a"]},
              "legend": {"title": null, "labelExpr": "datum.label === 'dV' ? '∂ᵥ' : datum.label === 'xmin' ? 'xₘᵢₙ' : datum.label === 'xmax' ? 'xₘₐₓ' : datum.label === 'ymin' ? 'yₘᵢₙ' : datum.label === 'ymax' ? 'yₘₐₓ' : datum.label === 'zmin' ? 'zₘᵢₙ' : 'zₘₐₓ'"}},
            "strokeWidth": {"condition": {"test": "datum.s === 'dV'", "value": 5}, "value": 2.5}
          }
        },
        {
          "data": {"values": [{"t": 920}]},
          "mark": {"type": "rule", "strokeDash": [4, 2, 1, 2], "strokeWidth": 1, "color": "black"},
          "encoding": {
            "x": {"field": "t", "type": "quantitative", "axis": {"orient": "top", "values": [0,400,800,1200,1600], "labels": false, "title": null, "tickSize": -8}},
            "y": {"datum": -12, "type": "quantitative", "axis": {"orient": "right", "values": [-12,-8,-4,0,4,8], "labels": false, "title": null, "tickSize": -8}},
            "y2": {"datum": 8}
          }
        },
        {
          "data": {"values": [{"lab": "a)\u00a0\u00a0\u00a0\u00a0F", "sub": "tot"}]},
          "mark": {"type": "text", "align": "left", "baseline": "alphabetic", "fontSize": 15, "color": "black"},
          "encoding": {
            "x": {"datum": 95, "type": "quantitative", "axis": {"orient": "bottom", "values": [200,600,1000,1400], "labels": false, "title": null, "tickSize": -4}},
            "y": {"datum": 5.55, "type": "quantitative", "axis": {"orient": "left", "values": [-10,-6,-2,2,6], "labels": false, "title": null, "tickSize": -4}},
            "text": {"field": "lab"}}
        },
        {
          "data": {"values": [{"lab": "a)\u00a0\u00a0\u00a0\u00a0F", "sub": "tot"}]},
          "mark": {"type": "text", "align": "left", "baseline": "alphabetic", "fontSize": 10, "dx": 39, "dy": 5, "color": "black"},
          "encoding": {
            "x": {"datum": 95, "type": "quantitative", "axis": {"orient": "top", "values": [200,600,1000,1400], "labels": false, "title": null, "tickSize": -4}},
            "y": {"datum": 5.55, "type": "quantitative", "axis": {"orient": "right", "values": [-10,-6,-2,2,6], "labels": false, "title": null, "tickSize": -4}},
            "text": {"field": "sub"}}
        }
      ]
    },
    {
      "width": 322, "height": 334,
      "data": {"name": "b"},
      "resolve": {"axis": {"x": "independent", "y": "independent"}},
      "layer": [
        {
          "mark": {"type": "line", "clip": true, "strokeJoin": "round"},
          "encoding": {
            "x": {"field": "t", "type": "quantitative", "scale": {"domain": [0, 1600], "nice": false},
              "axis": {"orient": "bottom", "values": [0,400,800,1200,1600], "format": "d", "tickSize": -8, "labelPadding": 19, "title": "Time", "titlePadding": 4}},
            "y": {"field": "v", "type": "quantitative", "scale": {"domain": [-12, 8], "nice": false},
              "axis": {"orient": "left", "values": [-12,-8,-4,0,4,8], "labelExpr": "datum.value + ''", "tickSize": -8, "labelPadding": 12, "title": "Helicity rate", "titlePadding": 6}},
            "color": {"field": "s", "type": "nominal", "scale": {"domain": ["dV","xmin","xmax","ymin","ymax","zmin","zmax"], "range": ["#000000","#55189a","#1f45e8","#2ee62e","#ff8a1a","#f7f21e","#f73d1a"]},
              "legend": {"title": null, "labelExpr": "datum.label === 'dV' ? '∂ᵥ' : datum.label === 'xmin' ? 'xₘᵢₙ' : datum.label === 'xmax' ? 'xₘₐₓ' : datum.label === 'ymin' ? 'yₘᵢₙ' : datum.label === 'ymax' ? 'yₘₐₓ' : datum.label === 'zmin' ? 'zₘᵢₙ' : 'zₘₐₓ'"}},
            "strokeWidth": {"condition": {"test": "datum.s === 'dV'", "value": 5}, "value": 2.5}
          }
        },
        {
          "data": {"values": [{"t": 920}]},
          "mark": {"type": "rule", "strokeDash": [4, 2, 1, 2], "strokeWidth": 1, "color": "black"},
          "encoding": {
            "x": {"field": "t", "type": "quantitative", "axis": {"orient": "top", "values": [0,400,800,1200,1600], "labels": false, "title": null, "tickSize": -8}},
            "y": {"datum": -12, "type": "quantitative", "axis": {"orient": "right", "values": [-12,-8,-4,0,4,8], "labels": false, "title": null, "tickSize": -8}},
            "y2": {"datum": 8}
          }
        },
        {
          "data": {"values": [{"lab": "b)\u00a0\u00a0\u00a0\u00a0F", "sub": "φ"}]},
          "mark": {"type": "text", "align": "left", "baseline": "alphabetic", "fontSize": 15, "color": "black"},
          "encoding": {
            "x": {"datum": 95, "type": "quantitative", "axis": {"orient": "bottom", "values": [200,600,1000,1400], "labels": false, "title": null, "tickSize": -4}},
            "y": {"datum": 5.55, "type": "quantitative", "axis": {"orient": "left", "values": [-10,-6,-2,2,6], "labels": false, "title": null, "tickSize": -4}},
            "text": {"field": "lab"}}
        },
        {
          "data": {"values": [{"lab": "b)\u00a0\u00a0\u00a0\u00a0F", "sub": "φ"}]},
          "mark": {"type": "text", "align": "left", "baseline": "alphabetic", "fontSize": 11, "fontStyle": "italic", "dx": 39, "dy": 5, "color": "black"},
          "encoding": {
            "x": {"datum": 95, "type": "quantitative", "axis": {"orient": "top", "values": [200,600,1000,1400], "labels": false, "title": null, "tickSize": -4}},
            "y": {"datum": 5.55, "type": "quantitative", "axis": {"orient": "right", "values": [-10,-6,-2,2,6], "labels": false, "title": null, "tickSize": -4}},
            "text": {"field": "sub"}}
        }
      ]
    },
    {
      "width": 322, "height": 334,
      "data": {"name": "c"},
      "resolve": {"axis": {"x": "independent", "y": "independent"}},
      "layer": [
        {
          "mark": {"type": "line", "clip": true, "strokeJoin": "round"},
          "encoding": {
            "x": {"field": "t", "type": "quantitative", "scale": {"domain": [0, 1600], "nice": false},
              "axis": {"orient": "bottom", "values": [0,400,800,1200,1600], "format": "d", "tickSize": -8, "labelPadding": 19, "title": "Time", "titlePadding": 4}},
            "y": {"field": "v", "type": "quantitative", "scale": {"domain": [-0.02, 0.08], "nice": false},
              "axis": {"orient": "left", "values": [-0.02,0,0.02,0.04,0.06,0.08], "labelExpr": "replace(format(datum.value, '.2f'), '\u2212', '-')", "tickSize": -8, "labelPadding": 12, "title": "Helicity rate", "titlePadding": 6}},
            "color": {"field": "s", "type": "nominal", "scale": {"domain": ["dV","xmin","xmax","ymin","ymax","zmin","zmax"], "range": ["#000000","#55189a","#1f45e8","#2ee62e","#ff8a1a","#f7f21e","#f73d1a"]},
              "legend": {"title": null, "labelExpr": "datum.label === 'dV' ? '∂ᵥ' : datum.label === 'xmin' ? 'xₘᵢₙ' : datum.label === 'xmax' ? 'xₘₐₓ' : datum.label === 'ymin' ? 'yₘᵢₙ' : datum.label === 'ymax' ? 'yₘₐₓ' : datum.label === 'zmin' ? 'zₘᵢₙ' : 'zₘₐₓ'"}},
            "strokeWidth": {"condition": {"test": "datum.s === 'dV'", "value": 5}, "value": 2.5}
          }
        },
        {
          "data": {"values": [{"t": 920}]},
          "mark": {"type": "rule", "strokeDash": [4, 2, 1, 2], "strokeWidth": 1, "color": "black"},
          "encoding": {
            "x": {"field": "t", "type": "quantitative", "axis": {"orient": "top", "values": [0,400,800,1200,1600], "labels": false, "title": null, "tickSize": -8}},
            "y": {"datum": -0.02, "type": "quantitative", "axis": {"orient": "right", "values": [-0.02,0,0.02,0.04,0.06,0.08], "labels": false, "title": null, "tickSize": -8}},
            "y2": {"datum": 0.08}
          }
        },
        {
          "data": {"values": [{"lab": "c)\u00a0\u00a0\u00a0\u00a0F", "sub": "AAp"}]},
          "mark": {"type": "text", "align": "left", "baseline": "alphabetic", "fontSize": 15, "color": "black"},
          "encoding": {
            "x": {"datum": 95, "type": "quantitative", "axis": {"orient": "bottom", "values": [200,600,1000,1400], "labels": false, "title": null, "tickSize": -4}},
            "y": {"datum": 0.0677, "type": "quantitative", "axis": {"orient": "left", "values": [-0.01,0.01,0.03,0.05,0.07], "labels": false, "title": null, "tickSize": -4}},
            "text": {"field": "lab"}}
        },
        {
          "data": {"values": [{"lab": "c)\u00a0\u00a0\u00a0\u00a0F", "sub": "AAp"}]},
          "mark": {"type": "text", "align": "left", "baseline": "alphabetic", "fontSize": 10, "dx": 39, "dy": 5, "color": "black"},
          "encoding": {
            "x": {"datum": 95, "type": "quantitative", "axis": {"orient": "top", "values": [200,600,1000,1400], "labels": false, "title": null, "tickSize": -4}},
            "y": {"datum": 0.0677, "type": "quantitative", "axis": {"orient": "right", "values": [-0.01,0.01,0.03,0.05,0.07], "labels": false, "title": null, "tickSize": -4}},
            "text": {"field": "sub"}}
        }
      ]
    },
    {
      "width": 322, "height": 334,
      "data": {"name": "d"},
      "resolve": {"axis": {"x": "independent", "y": "independent"}},
      "layer": [
        {
          "mark": {"type": "line", "clip": true, "strokeJoin": "round"},
          "encoding": {
            "x": {"field": "t", "type": "quantitative", "scale": {"domain": [0, 1600], "nice": false},
              "axis": {"orient": "bottom", "values": [0,400,800,1200,1600], "format": "d", "tickSize": -8, "labelPadding": 19, "title": "Time", "titlePadding": 4}},
            "y": {"field": "v", "type": "quantitative", "scale": {"domain": [-12, 8], "nice": false},
              "axis": {"orient": "left", "values": [-12,-8,-4,0,4,8], "labelExpr": "datum.value + ''", "tickSize": -8, "labelPadding": 12, "title": "Helicity rate", "titlePadding": 6}},
            "color": {"field": "s", "type": "nominal", "scale": {"domain": ["dV","xmin","xmax","ymin","ymax","zmin","zmax"], "range": ["#000000","#55189a","#1f45e8","#2ee62e","#ff8a1a","#f7f21e","#f73d1a"]},
              "legend": {"title": null, "labelExpr": "datum.label === 'dV' ? '∂ᵥ' : datum.label === 'xmin' ? 'xₘᵢₙ' : datum.label === 'xmax' ? 'xₘₐₓ' : datum.label === 'ymin' ? 'yₘᵢₙ' : datum.label === 'ymax' ? 'yₘₐₓ' : datum.label === 'zmin' ? 'zₘᵢₙ' : 'zₘₐₓ'"}},
            "strokeWidth": {"condition": {"test": "datum.s === 'dV'", "value": 5}, "value": 2.5}
          }
        },
        {
          "data": {"values": [{"t": 920}]},
          "mark": {"type": "rule", "strokeDash": [4, 2, 1, 2], "strokeWidth": 1, "color": "black"},
          "encoding": {
            "x": {"field": "t", "type": "quantitative", "axis": {"orient": "top", "values": [0,400,800,1200,1600], "labels": false, "title": null, "tickSize": -8}},
            "y": {"datum": -12, "type": "quantitative", "axis": {"orient": "right", "values": [-12,-8,-4,0,4,8], "labels": false, "title": null, "tickSize": -8}},
            "y2": {"datum": 8}
          }
        },
        {
          "data": {"values": [{"lab": "d)\u00a0\u00a0\u00a0\u00a0F", "sub": "Bn"}]},
          "mark": {"type": "text", "align": "left", "baseline": "alphabetic", "fontSize": 15, "color": "black"},
          "encoding": {
            "x": {"datum": 95, "type": "quantitative", "axis": {"orient": "bottom", "values": [200,600,1000,1400], "labels": false, "title": null, "tickSize": -4}},
            "y": {"datum": 5.55, "type": "quantitative", "axis": {"orient": "left", "values": [-10,-6,-2,2,6], "labels": false, "title": null, "tickSize": -4}},
            "text": {"field": "lab"}}
        },
        {
          "data": {"values": [{"lab": "d)\u00a0\u00a0\u00a0\u00a0F", "sub": "Bn"}]},
          "mark": {"type": "text", "align": "left", "baseline": "alphabetic", "fontSize": 10, "dx": 39, "dy": 5, "color": "black"},
          "encoding": {
            "x": {"datum": 95, "type": "quantitative", "axis": {"orient": "top", "values": [200,600,1000,1400], "labels": false, "title": null, "tickSize": -4}},
            "y": {"datum": 5.55, "type": "quantitative", "axis": {"orient": "right", "values": [-10,-6,-2,2,6], "labels": false, "title": null, "tickSize": -4}},
            "text": {"field": "sub"}}
        }
      ]
    },
    {
      "width": 322, "height": 334,
      "data": {"name": "e"},
      "resolve": {"axis": {"x": "independent", "y": "independent"}},
      "layer": [
        {
          "mark": {"type": "line", "clip": true, "strokeJoin": "round"},
          "encoding": {
            "x": {"field": "t", "type": "quantitative", "scale": {"domain": [0, 1600], "nice": false},
              "axis": {"orient": "bottom", "values": [0,400,800,1200,1600], "format": "d", "tickSize": -8, "labelPadding": 19, "title": "Time", "titlePadding": 4}},
            "y": {"field": "v", "type": "quantitative", "scale": {"domain": [-4, 1], "nice": false},
              "axis": {"orient": "left", "values": [-4,-3,-2,-1,0,1], "labelExpr": "datum.value + ''", "tickSize": -8, "labelPadding": 12, "title": "Helicity rate", "titlePadding": 6}},
            "color": {"field": "s", "type": "nominal", "scale": {"domain": ["dV","xmin","xmax","ymin","ymax","zmin","zmax"], "range": ["#000000","#55189a","#1f45e8","#2ee62e","#ff8a1a","#f7f21e","#f73d1a"]},
              "legend": {"title": null, "labelExpr": "datum.label === 'dV' ? '∂ᵥ' : datum.label === 'xmin' ? 'xₘᵢₙ' : datum.label === 'xmax' ? 'xₘₐₓ' : datum.label === 'ymin' ? 'yₘᵢₙ' : datum.label === 'ymax' ? 'yₘₐₓ' : datum.label === 'zmin' ? 'zₘᵢₙ' : 'zₘₐₓ'"}},
            "strokeWidth": {"condition": {"test": "datum.s === 'dV'", "value": 5}, "value": 2.5}
          }
        },
        {
          "data": {"values": [{"t": 920}]},
          "mark": {"type": "rule", "strokeDash": [4, 2, 1, 2], "strokeWidth": 1, "color": "black"},
          "encoding": {
            "x": {"field": "t", "type": "quantitative", "axis": {"orient": "top", "values": [0,400,800,1200,1600], "labels": false, "title": null, "tickSize": -8}},
            "y": {"datum": -4, "type": "quantitative", "axis": {"orient": "right", "values": [-4,-3,-2,-1,0,1], "labels": false, "title": null, "tickSize": -8}},
            "y2": {"datum": 1}
          }
        },
        {
          "data": {"values": [{"lab": "e)\u00a0\u00a0\u00a0\u00a0F", "sub": "Vn"}]},
          "mark": {"type": "text", "align": "left", "baseline": "alphabetic", "fontSize": 15, "color": "black"},
          "encoding": {
            "x": {"datum": 95, "type": "quantitative", "axis": {"orient": "bottom", "values": [200,600,1000,1400], "labels": false, "title": null, "tickSize": -4}},
            "y": {"datum": 0.386, "type": "quantitative", "axis": {"orient": "left", "values": [-3.5,-2.5,-1.5,-0.5,0.5], "labels": false, "title": null, "tickSize": -4}},
            "text": {"field": "lab"}}
        },
        {
          "data": {"values": [{"lab": "e)\u00a0\u00a0\u00a0\u00a0F", "sub": "Vn"}]},
          "mark": {"type": "text", "align": "left", "baseline": "alphabetic", "fontSize": 10, "dx": 39, "dy": 5, "color": "black"},
          "encoding": {
            "x": {"datum": 95, "type": "quantitative", "axis": {"orient": "top", "values": [200,600,1000,1400], "labels": false, "title": null, "tickSize": -4}},
            "y": {"datum": 0.386, "type": "quantitative", "axis": {"orient": "right", "values": [-3.5,-2.5,-1.5,-0.5,0.5], "labels": false, "title": null, "tickSize": -4}},
            "text": {"field": "sub"}}
        }
      ]
    }
  ]
}
